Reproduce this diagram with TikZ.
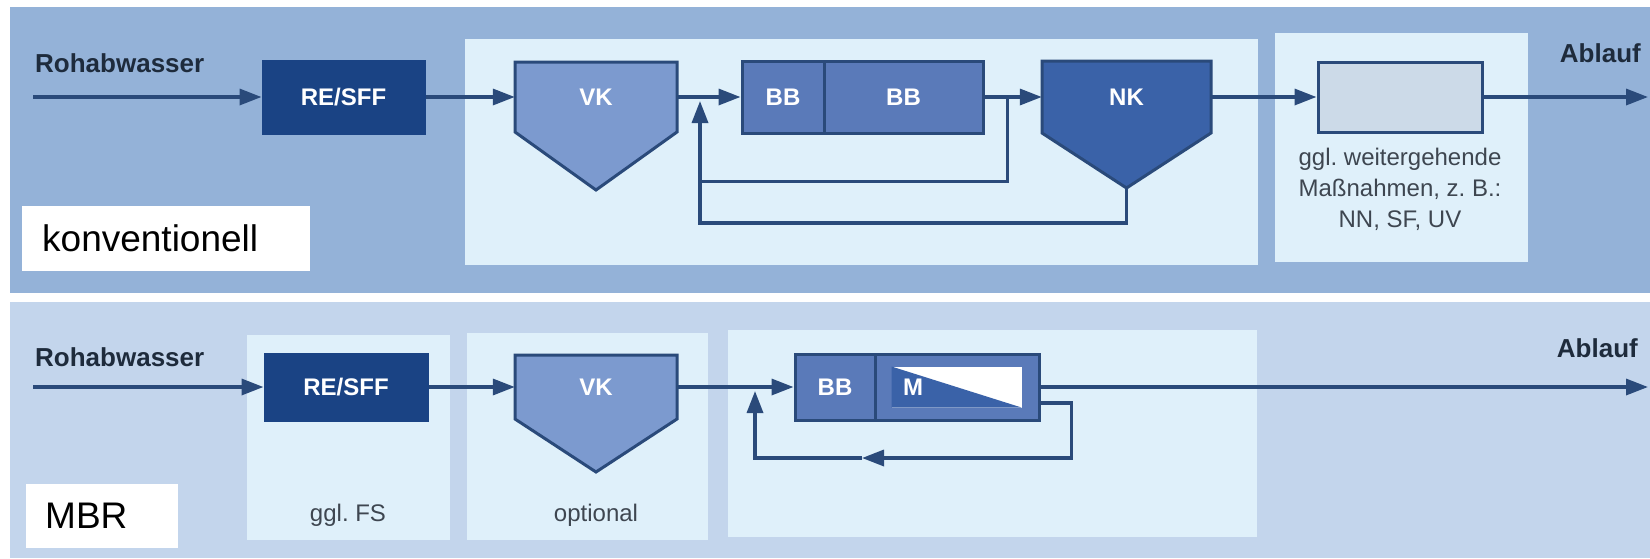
\documentclass[tikz,border=0pt]{standalone}
\usepackage{fontspec}
\setmainfont{Liberation Sans}
\frenchspacing
\usetikzlibrary{arrows.meta,positioning,calc}

\definecolor{panelblue}{HTML}{94B2D8}
\definecolor{panelpale}{HTML}{C3D5EC}
\definecolor{stagebg}{HTML}{DFF0FA}
\definecolor{navy}{HTML}{1A4384}
\definecolor{linenavy}{HTML}{2A4A7A}
\definecolor{vkblue}{HTML}{7C9ACF}
\definecolor{bbblue}{HTML}{5A7AB9}
\definecolor{nkblue}{HTML}{3A62A8}
\definecolor{extgray}{HTML}{CCDAE8}
\definecolor{labeltext}{HTML}{1E2B3C}
\definecolor{notetext}{HTML}{3E4650}

\begin{document}
\begin{tikzpicture}[
        x=1pt,   % 1 unit = 1 px of the scan
        y=-1pt,  % y runs downwards
        flow/.style={draw=linenavy, line width=3.4pt, -{Triangle[length=22pt, width=16pt]}},
        pipe/.style={draw=linenavy, line width=3pt},
        procbox/.style={draw=linenavy, line width=3pt, text=white, inner sep=0pt,
            font=\fontsize{24}{28}\selectfont\bfseries},
        tank/.style={draw=linenavy, line width=3pt, line join=miter},
        tanklabel/.style={text=white, inner sep=0pt, minimum width=162pt,
            font=\fontsize{24}{28}\selectfont\bfseries},
        flowlabel/.style={text=labeltext, inner sep=0pt, font=\fontsize{26}{30}\selectfont\bfseries},
        stagenote/.style={text=notetext, inner sep=0pt, align=center, font=\fontsize{24}{31}\selectfont},
        casetag/.style={fill=white, text=black, anchor=north west, inner ysep=0pt, align=left,
            font=\fontsize{37}{44}\selectfont},
    ]

    \useasboundingbox (0,0) rectangle (1650,558);
    \fill[white] (0,0) rectangle (1650,558);

    % Panel backgrounds
    \fill[panelblue] (10,7) rectangle (1650,293);
    \fill[stagebg] (465,39) rectangle (1258,265);
    \fill[stagebg] (1275,33) rectangle (1528,262);
    \fill[panelpale] (10,302) rectangle (1650,558);
    \fill[stagebg] (247,335) rectangle (450,540);
    \fill[stagebg] (467,333) rectangle (708,540);
    \fill[stagebg] (728,330) rectangle (1257,537);

    % ---- konventionell ----
    \node[flowlabel, anchor=base west] (raw1) at (35,72) {Rohabwasser};
    \coordinate (in1) at (33,97);
    \node[procbox, fill=navy, draw=navy, minimum width=161pt, minimum height=72pt] (resff1) at (343.5,97) {RE/SFF};

    % VK (pentagon tank)
    \draw[tank, fill=vkblue] (515,62) -- (677,62) -- (677,132) -- (596,190) -- (515,132) -- cycle;
    \node[tanklabel, minimum height=70pt] (vk1) at (596,97) {VK};

    % BB | BB
    \node[procbox, fill=bbblue, minimum width=82pt, minimum height=72pt] (bb1a) at (783,97) {BB};
    \node[procbox, fill=bbblue, minimum width=159pt, minimum height=72pt] (bb1b) at (903.5,97) {BB};

    % NK (pentagon tank)
    \draw[tank, fill=nkblue] (1042,61) -- (1211,61) -- (1211,133) -- (1126.5,188) coordinate (nk1tip) -- (1042,133) -- cycle;
    \node[tanklabel, minimum width=169pt, minimum height=72pt] (nk1) at (1126.5,97) {NK};

    % further treatment
    \node[procbox, fill=extgray, minimum width=164pt, minimum height=70pt] (ext1) at (1400,97) {};
    \node[stagenote, anchor=north, below=14pt of ext1] (extnote) {ggl. weitergehende\\Maßnahmen, z. B.:\\NN, SF, UV};
    \node[flowlabel, anchor=base east] (eff1) at (1641,62) {Ablauf};
    \coordinate (out1) at (1648,97);

    % main flow
    \draw[flow] (in1) -- (resff1);
    \draw[flow] (resff1) -- (vk1);
    \draw[flow] (vk1) -- (bb1a);
    \draw[flow] (bb1b) -- (nk1);
    \draw[flow] (nk1) -- (ext1);
    \draw[flow] (ext1) -- (out1);

    % return sludge loops
    \coordinate (split1) at (1007,97);
    \coordinate (ret1) at (700,101);
    \coordinate (loop1a) at (700,181);
    \coordinate (loop1b) at (700,223);
    \draw[pipe] (split1) |- (loop1a);
    \draw[flow] (nk1tip) |- (loop1b) -- (ret1);

    \node[casetag, text width=248pt, inner xsep=20pt, minimum height=65pt] (tag1) at (22,206) {konventionell};

    % ---- MBR ----
    \node[flowlabel, anchor=base west] (raw2) at (35,366) {Rohabwasser};
    \coordinate (in2) at (33,387);
    \node[procbox, fill=navy, draw=navy, minimum width=162pt, minimum height=66pt] (resff2) at (346,387) {RE/SFF};
    \node[stagenote, anchor=base] (fsnote) at (348,521) {ggl. FS};

    % VK (optional)
    \draw[tank, fill=vkblue] (515,355) -- (677,355) -- (677,419) -- (596,472) -- (515,419) -- cycle;
    \node[tanklabel, minimum height=64pt] (vk2) at (596,387) {VK};
    \node[stagenote, anchor=base] (optnote) at (596,521) {optional};

    % BB | M
    \node[procbox, fill=bbblue, minimum width=80pt, minimum height=66pt] (bb2) at (835,387) {BB};
    \node[procbox, fill=bbblue, minimum width=164pt, minimum height=66pt] (mem2) at (957,387) {};
    \fill[white] ($(mem2.north west)+(18,14)$) rectangle ($(mem2.south east)+(-19,-14)$);
    \fill[nkblue] ($(mem2.north west)+(18,14)$) -- ($(mem2.south west)+(18,-14)$) -- ($(mem2.south east)+(-19,-14)$) -- cycle;
    \node[procbox, draw=none, right=28pt of mem2.west] (mlabel2) {M};

    \node[flowlabel, anchor=base east] (eff2) at (1638,357) {Ablauf};
    \coordinate (out2) at (1648,387);

    % main flow
    \draw[flow] (in2) -- (resff2);
    \draw[flow] (resff2) -- (vk2);
    \draw[flow] (vk2) -- (bb2);
    \draw[flow] (mem2) -- (out2);

    % return loop
    \coordinate (rs2) at ($(mem2.east)+(0,16)$);
    \coordinate (mid2) at (862,458);
    \coordinate (loop2) at (755,458);
    \coordinate (ret2) at (755,391);
    \draw[flow] (rs2) -- ++(31,0) |- (mid2);
    \draw[flow] (mid2) -- (loop2) -- (ret2);

    \node[casetag, text width=114pt, inner xsep=19pt, minimum height=64pt] (tag2) at (26,484) {MBR};

\end{tikzpicture}
\end{document}
